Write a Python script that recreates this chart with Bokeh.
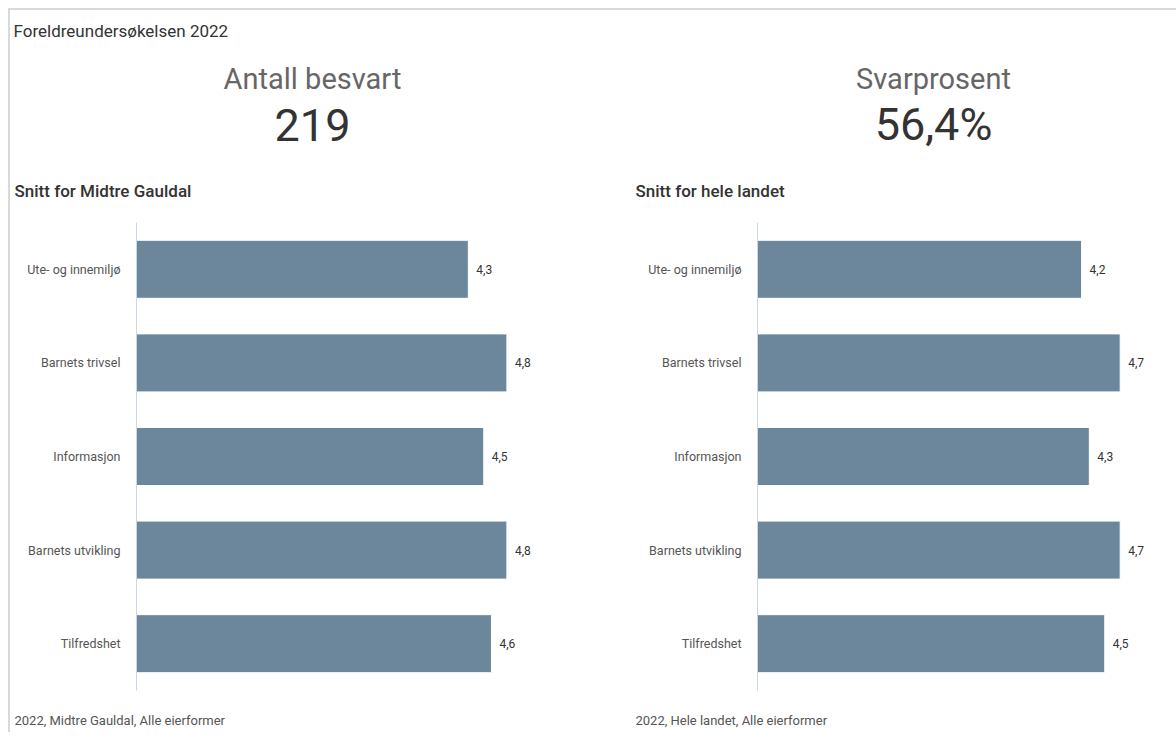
from bokeh.plotting import figure
from bokeh.models import Range1d, FactorRange, ColumnDataSource
from bokeh.layouts import column, row
from bokeh.embed import file_html
from bokeh.resources import INLINE
from bokeh.core.properties import value

# ---- data ----
title_text = "Foreldreundersøkelsen 2022"
kpi_labels = ["Antall besvart", "Svarprosent"]
kpi_values = ["219", "56,4%"]
categories = ["Ute- og innemiljø", "Barnets trivsel", "Informasjon",
              "Barnets utvikling", "Tilfredshet"]
local_scores = [4.3, 4.8, 4.5, 4.8, 4.6]
national_scores = [4.2, 4.7, 4.3, 4.7, 4.5]
panel_titles = ["Snitt for Midtre Gauldal", "Snitt for hele landet"]
footers = ["2022, Midtre Gauldal, Alle eierformer",
           "2022, Hele landet, Alle eierformer"]

FONT = "Roboto"
BAR_COLOR = "#6c879b"
TOTAL_W = 1166


def canvas(w, h):
    p = figure(width=w, height=h, x_range=Range1d(0, w), y_range=Range1d(h, 0),
               x_axis_type=None, y_axis_type=None, min_border=0,
               toolbar_location=None, output_backend="svg")
    p.grid.visible = False
    p.outline_line_color = None
    return p


# ---- header ----
head = canvas(TOTAL_W, 205)
head.text(x=[3], y=[20], text=[title_text], text_font=value(FONT),
          text_font_size="17px", text_color="#333333",
          text_baseline="middle", text_align="left")
head.text(x=[302, 923], y=[68, 68], text=kpi_labels, text_font=value(FONT),
          text_font_size="29px", text_color="#666666",
          text_baseline="middle", text_align="center")
head.text(x=[302, 923], y=[114, 114], text=kpi_values, text_font=value(FONT),
          text_font_size="45px", text_color="#333333",
          text_baseline="middle", text_align="center")
head.text(x=[4, 625], y=[180, 180], text=panel_titles, text_font=value("Roboto Medium"),
          text_font_size="17px", text_color="#333333",
          text_baseline="middle", text_align="left")

PX_PER_UNIT = 463 / 6.0


def bar_panel(values, frame_w, left_b, right_b):
    labels = [f"{v:.1f}".replace(".", ",") for v in values]
    src = ColumnDataSource(dict(cat=categories, val=values, lbl=labels))
    p = figure(y_range=FactorRange(factors=categories[::-1]),
               x_range=Range1d(0, frame_w / PX_PER_UNIT),
               frame_width=frame_w, frame_height=468,
               min_border_left=left_b, min_border_right=right_b,
               min_border_top=7, min_border_bottom=15,
               x_axis_location=None,
               toolbar_location=None, output_backend="svg")
    p.hbar(y="cat", left=0, right="val", height=0.62, source=src,
           fill_color=BAR_COLOR, line_color="white", line_width=1)
    p.text(x="val", y="cat", text="lbl", source=src, x_offset=8,
           text_font=value(FONT), text_font_size="12px", text_color="#333333",
           text_baseline="middle", text_align="left")
    p.grid.visible = False
    p.outline_line_color = None
    ax = p.yaxis[0]
    ax.axis_line_color = "#ccd6eb"
    ax.axis_line_width = 1
    ax.major_tick_line_color = None
    ax.minor_tick_line_color = None
    ax.major_tick_out = 0
    ax.major_tick_in = 0
    ax.major_label_standoff = 16
    ax.major_label_text_font = FONT
    ax.major_label_text_font_size = "12.5px"
    ax.major_label_text_color = "#555555"
    return p


left = bar_panel(local_scores, 463, 126, 29)
right = bar_panel(national_scores, 419, 129, 0)

# ---- footer ----
foot = canvas(TOTAL_W, 27)
foot.text(x=[4, 625], y=[15, 15], text=footers, text_font=value(FONT),
          text_font_size="13px", text_color="#555555",
          text_baseline="middle", text_align="left")

layout = column(head, row(left, right), foot,
                styles={"margin-left": "8px", "margin-top": "8px",
                        "border-top": "2px solid #d9d9d9",
                        "border-left": "2px solid #d9d9d9"})

open("out.html", "w").write(file_html(layout, INLINE))
